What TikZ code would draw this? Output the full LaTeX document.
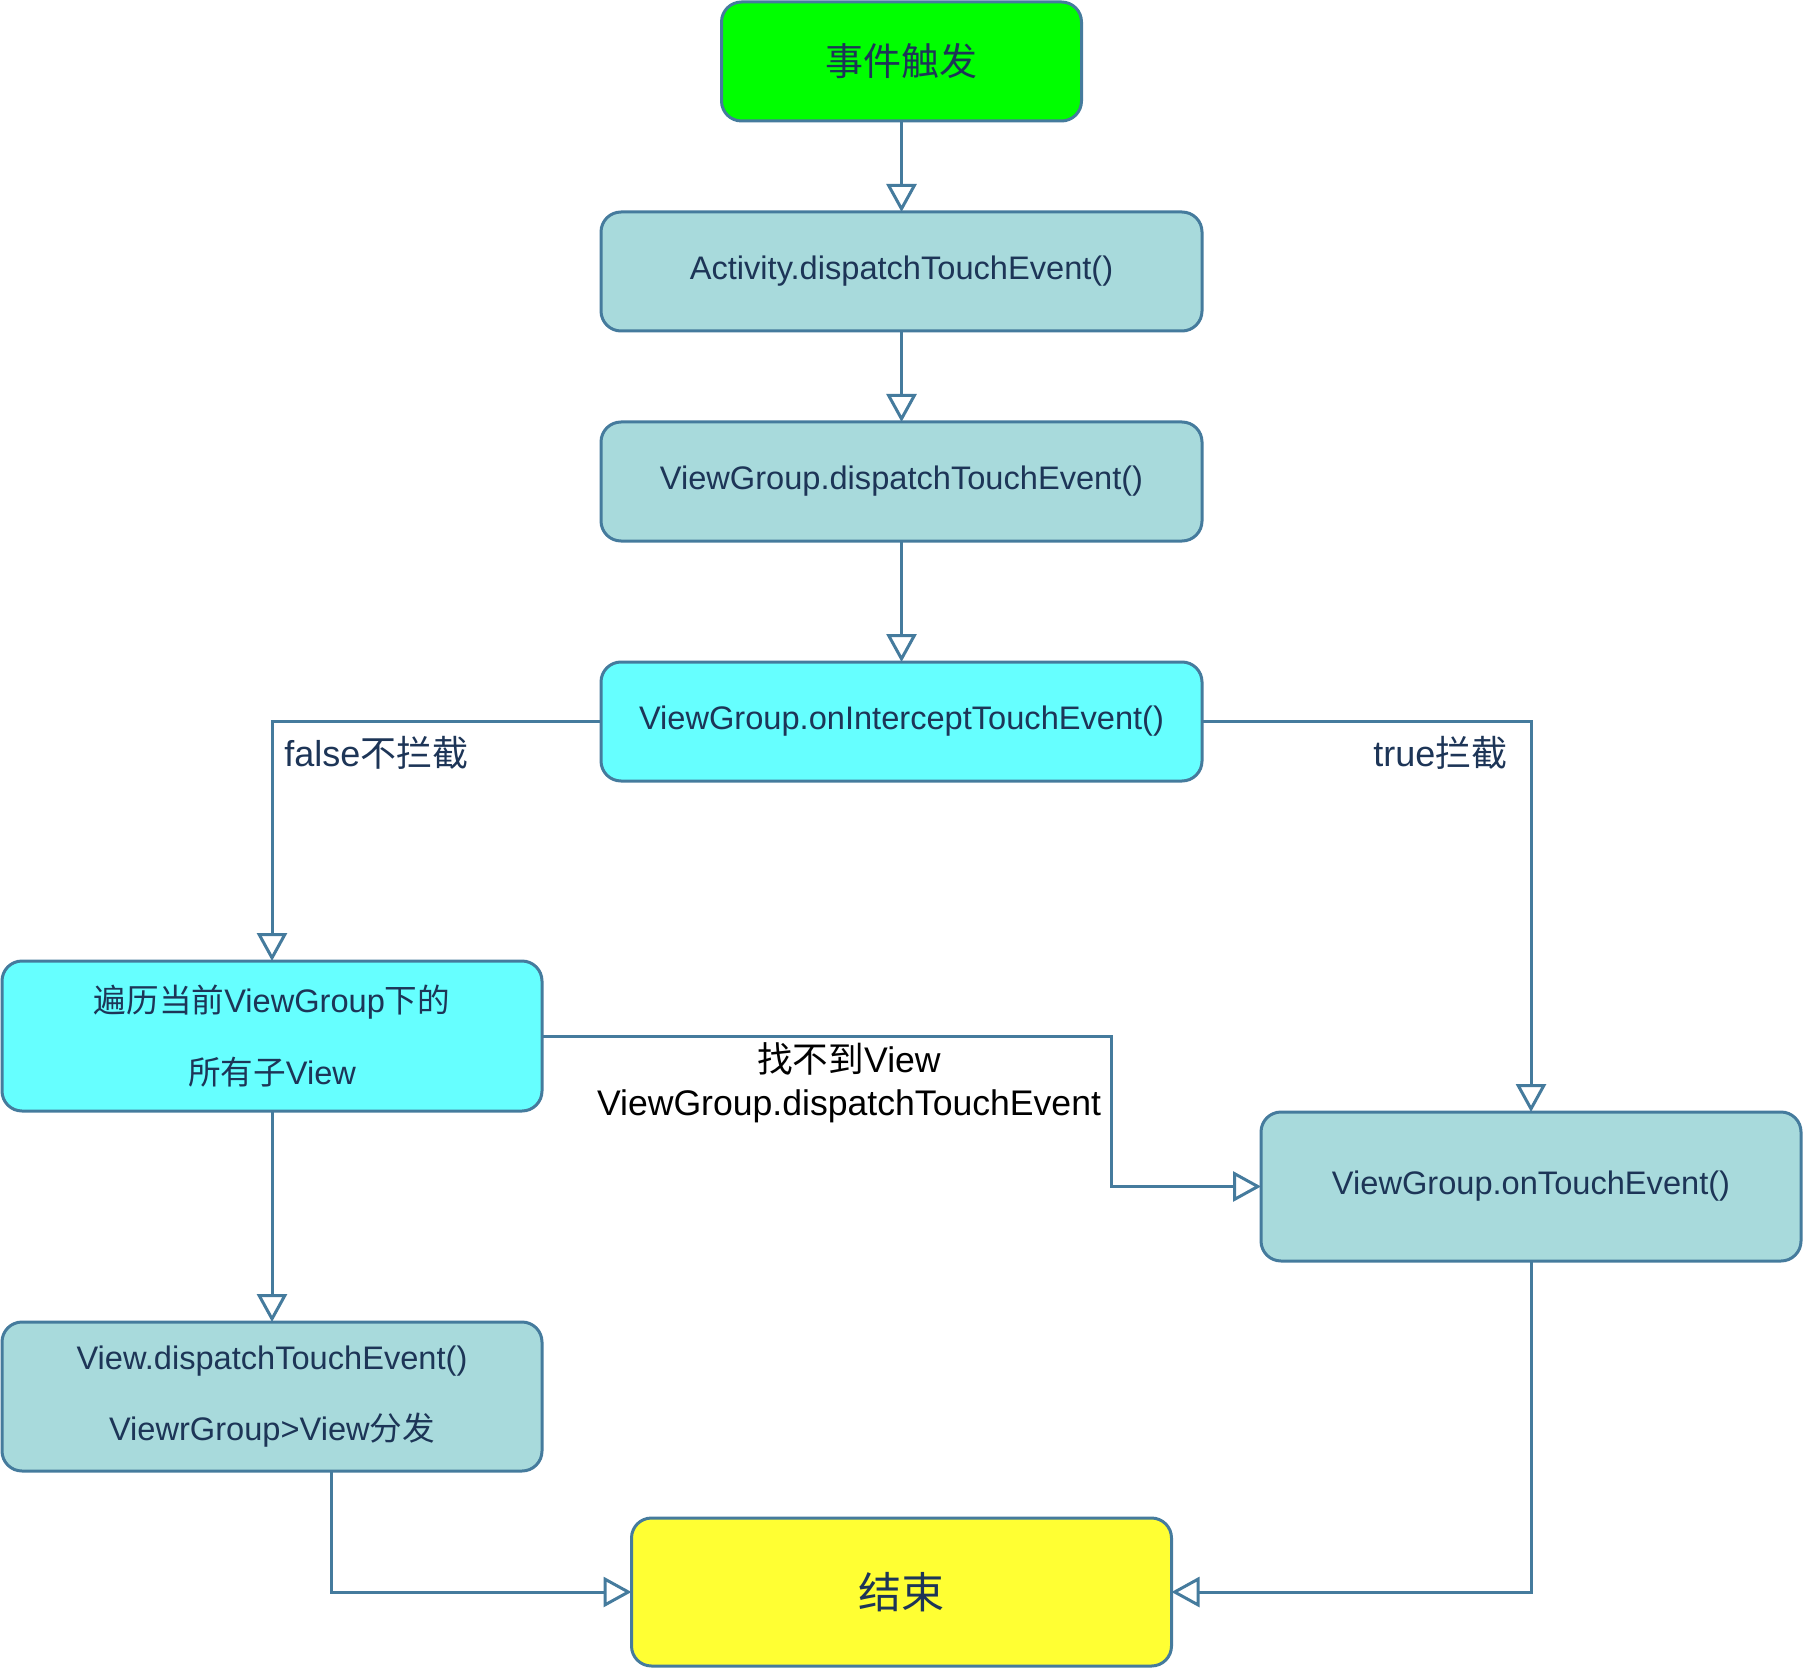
\documentclass[tikz,border=0pt]{standalone}
\usepackage{fontspec}
\setmainfont{Liberation Sans}
\newfontfamily\cjk{Noto Sans CJK SC}
\usetikzlibrary{arrows.meta}
\definecolor{strk}{HTML}{457B9D}
\definecolor{txt}{HTML}{1D3557}
\definecolor{teal}{HTML}{A8DADC}
\definecolor{cyanf}{HTML}{66FFFF}
\definecolor{greenf}{HTML}{00FF00}
\definecolor{yellowf}{HTML}{FFFF33}
\tikzset{
  box/.style={draw=strk, line width=1.5pt, rounded corners=10pt, inner sep=0pt, outer sep=0pt,
    text=txt, align=center, font=\fontsize{16.3}{19.6}\selectfont},
  twoline/.style={font=\fontsize{16.3}{35.7}\selectfont},
  conn/.style={draw=strk, line width=1.5pt, -{Triangle[open, width=15pt, length=14pt, line width=1.5pt]}},
  lbl/.style={text=txt, font=\fontsize{18}{21}\selectfont, inner sep=0pt}
}
\begin{document}
\begin{tikzpicture}[x=0.5pt,y=-0.5pt]
\useasboundingbox (0,0) rectangle (1803,1668);
\node[box, fill=greenf, minimum width=180pt, minimum height=59.5pt, font=\fontsize{19}{22}\selectfont] (start) at (901.5,61.5) {\cjk 事件触发};
\node[box, fill=teal, minimum width=300.5pt, minimum height=59.5pt] (act) at (901.5,271.5) {Activity.dispatchTouchEvent()};
\node[box, fill=teal, minimum width=300.5pt, minimum height=59.5pt] (vgd) at (901.5,481.5) {ViewGroup.dispatchTouchEvent()};
\node[box, fill=cyanf, minimum width=300.5pt, minimum height=59.5pt] (vgi) at (901.5,721.5) {ViewGroup.onInterceptTouchEvent()};
\node[box, twoline, fill=cyanf, minimum width=270pt, minimum height=75pt] (trav) at (272,1036) {{\cjk 遍历当前}ViewGroup{\cjk 下的}\\{\cjk 所有子}View};
\node[box, twoline, fill=teal, minimum width=270pt, minimum height=74.5pt] (vd) at (272,1396.5) {View.dispatchTouchEvent()\\ViewrGroup>View{\cjk 分发}};
\node[box, fill=teal, minimum width=270pt, minimum height=74.5pt] (vot) at (1531,1186.5) {ViewGroup.onTouchEvent()};
\node[box, fill=yellowf, minimum width=270pt, minimum height=74pt, font=\fontsize{21.5}{24}\selectfont] (end) at (901.5,1592) {\cjk 结束};

\coordinate (kx) at (1111,0);
\coordinate (vdx) at (331,0);

\draw[conn] (start) -- (act);
\draw[conn] (act) -- (vgd);
\draw[conn] (vgd) -- (vgi);
\draw[conn] (vgi.west) -| (trav.north);
\draw[conn] (vgi.east) -| (vot.north);
\draw[conn] (trav.east) -- (trav.east -| kx) |- (vot.west);
\draw[conn] (trav) -- (vd);
\draw[conn] (vd.south -| vdx) |- (end.west);
\draw[conn] (vot.south) |- (end.east);

\node[lbl, anchor=west] (lf) at (284,753) {false{\cjk 不拦截}};
\node[lbl, anchor=west] (lt) at (1373,753) {true{\cjk 拦截}};
\node[inner sep=0pt, align=center, text=black, font=\fontsize{17.8}{21.3}\selectfont] (lm) at (849,1083) {{\cjk 找不到}View\\ViewGroup.dispatchTouchEvent};
\end{tikzpicture}
\end{document}
